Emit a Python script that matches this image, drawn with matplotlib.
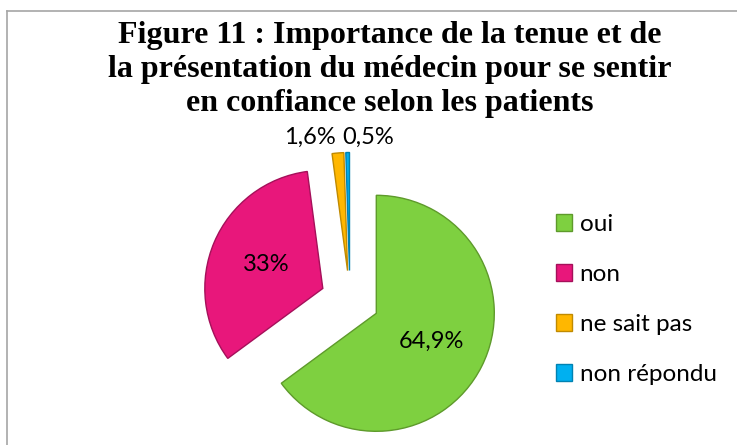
import numpy as np
import matplotlib
matplotlib.use("Agg")
import matplotlib.pyplot as plt
from matplotlib.patches import Patch
from matplotlib.lines import Line2D

# données
categories = ["oui", "non", "ne sait pas", "non répondu"]
values = [64.9, 33.0, 1.6, 0.5]
pct_labels = ["64,9%", "33%", "1,6%", "0,5%"]
title_lines = ["Figure 11 : Importance de la tenue et de",
               "la présentation du médecin pour se sentir",
               "en confiance selon les patients"]

colors = ["#7ED040", "#E8177B", "#FFB700", "#00B0F0"]
edges = ["#5E9A2B", "#A5105A", "#C08A00", "#0082B2"]

label_font = "Lato"

fig = plt.figure(figsize=(7.37, 4.45), dpi=100)

# cadre gris (haut et gauche)
fig.add_artist(Line2D([7 / 737, 1], [1 - 11 / 445] * 2, color="#A6A6A6", lw=1.2))
fig.add_artist(Line2D([7 / 737] * 2, [0, 1 - 11 / 445], color="#A6A6A6", lw=1.2))

# titre
for y, line in zip([43, 77, 111], title_lines):
    fig.text(0.529, 1 - y / 445, line, ha="center", va="baseline",
             fontsize=23, fontweight="bold", family="Liberation Serif")

ax = fig.add_axes([0.2507, -0.0454, 0.4483, 0.7425])
wedges, _ = ax.pie(values, colors=colors, startangle=90, counterclock=False,
                   explode=[0.25] * 4,
                   wedgeprops=dict(linewidth=1.0))
for w, ec in zip(wedges, edges):
    w.set_edgecolor(ec)

# étiquettes de pourcentage
for i, w in enumerate(wedges):
    cx, cy = w.center
    if i < 2:
        ang = np.deg2rad((w.theta1 + w.theta2) / 2)
        ax.text(cx + 0.52 * np.cos(ang), cy + 0.52 * np.sin(ang), pct_labels[i],
                ha="center", va="center", fontsize=17, family=label_font)
    else:
        dx = -0.32 if i == 2 else 0.16
        ax.text(cx + dx, cy + 1.13, pct_labels[i], ha="center", va="center",
                fontsize=17, family=label_font)

ax.set_xlim(-1.4, 1.4)
ax.set_ylim(-1.4, 1.4)
ax.axis("off")

handles = [Patch(facecolor=c, edgecolor=e, linewidth=1.0) for c, e in zip(colors, edges)]
fig.legend(handles, categories, loc="center left", bbox_to_anchor=(0.754, 0.327),
           frameon=False, prop={"family": label_font, "size": 17.5},
           handlelength=0.68, handleheight=0.68, handletextpad=0.3,
           labelspacing=1.2, borderpad=0, borderaxespad=0)

fig.savefig("out.png", dpi=100)
